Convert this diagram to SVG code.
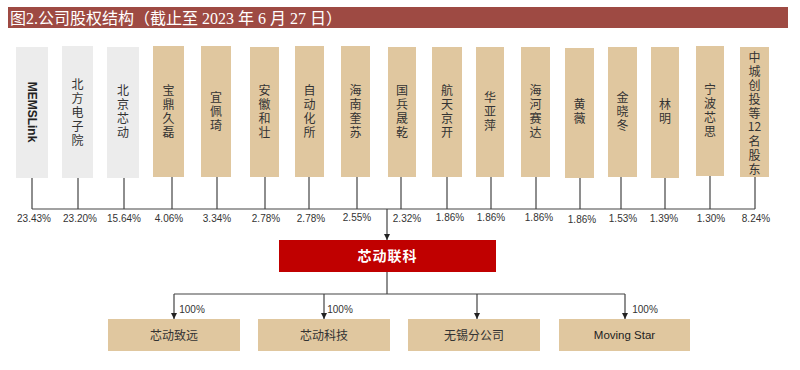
<svg xmlns="http://www.w3.org/2000/svg" width="800" height="370" viewBox="0 0 800 370">
<style>
.gray{fill:#ececec}
.tan{fill:#e0c79f}
.vt{font-family:"Noto Sans CJK SC",sans-serif;font-size:12px;fill:#333;text-anchor:middle;writing-mode:vertical-rl;text-orientation:upright;letter-spacing:2px}
.vs{font-family:"Noto Sans CJK SC",sans-serif;font-size:12px;fill:#333;text-anchor:start;writing-mode:vertical-rl;text-orientation:upright;letter-spacing:2.1px}
.pct{font-family:"Liberation Sans",Arial,sans-serif;font-size:10px;fill:#333;text-anchor:middle}
.ln{stroke:#444;stroke-width:1.2;fill:none}
.bt{font-family:"Noto Sans CJK SC",sans-serif;font-size:12px;fill:#333;text-anchor:middle}
</style>
<defs>
<marker id="ah" viewBox="0 0 10 10" refX="10" refY="5" markerWidth="6" markerHeight="6" orient="auto" markerUnits="userSpaceOnUse">
<path d="M0,0 L10,5 L0,10 z" fill="#222"/>
</marker>
</defs>
<rect width="800" height="370" fill="#fff"/>
<g id="title">
<rect x="8" y="7" width="780" height="21" fill="#9e4a43"/>
<text x="10" y="23.5" font-family="'Liberation Serif','Noto Sans CJK SC',serif" font-size="16" fill="#fff">图2.公司股权结构（截止至 2023 年 6 月 27 日）</text>
</g>
<g id="n-memslink"><rect class="gray" x="16" y="47" width="32" height="131"/><text x="0" y="0" transform="translate(28,112) rotate(90)" font-family="'Liberation Sans',Arial,sans-serif" font-weight="bold" font-size="12" fill="#222" text-anchor="middle">MEMSLink</text></g>
<g id="n-bfdzy"><rect class="gray" x="62" y="46" width="31" height="132"/><text class="vt" x="77.5" y="113">北方电子院</text></g>
<g id="n-bjxd"><rect class="gray" x="107" y="47" width="32" height="131"/><text class="vt" x="123" y="112">北京芯动</text></g>
<g id="n-bdjl"><rect class="tan" x="153" y="46" width="31" height="131"/><text class="vt" x="168.5" y="112">宝鼎久磊</text></g>
<g id="n-ypq"><rect class="tan" x="201" y="46" width="30" height="131"/><text class="vt" x="216" y="112">宜佩琦</text></g>
<g id="n-ahhz"><rect class="tan" x="250" y="47" width="29" height="130"/><text class="vt" x="264.5" y="112">安徽和壮</text></g>
<g id="n-zdhs"><rect class="tan" x="295" y="46" width="29" height="131"/><text class="vt" x="309.5" y="112">自动化所</text></g>
<g id="n-hnks"><rect class="tan" x="341" y="46" width="29" height="131"/><text class="vt" x="355.5" y="112">海南奎苏</text></g>
<g id="n-gbsq"><rect class="tan" x="388" y="47" width="28" height="130"/><text class="vt" x="402" y="112">国兵晟乾</text></g>
<g id="n-htjk"><rect class="tan" x="432" y="47" width="30" height="130"/><text class="vt" x="447" y="112">航天京开</text></g>
<g id="n-hyp"><rect class="tan" x="476" y="47" width="28" height="130"/><text class="vt" x="490" y="112">华亚萍</text></g>
<g id="n-hhsd"><rect class="tan" x="521" y="47" width="29" height="130"/><text class="vt" x="535.5" y="112">海河赛达</text></g>
<g id="n-hw"><rect class="tan" x="565" y="48" width="29" height="130"/><text class="vt" x="579.5" y="112">黄薇</text></g>
<g id="n-jxd"><rect class="tan" x="608" y="47" width="29" height="130"/><text class="vt" x="622.5" y="112">金晓冬</text></g>
<g id="n-lm"><rect class="tan" x="651" y="47" width="28" height="131"/><text class="vt" x="665" y="112">林明</text></g>
<g id="n-nbxs"><rect class="tan" x="696" y="46" width="28" height="130"/><text class="vt" x="710" y="111">宁波芯思</text></g>
<g id="n-zcct"><rect class="tan" x="740" y="47" width="29" height="130"/><text class="vs" x="754.5" y="51">中城创投等</text><text x="754.5" y="131" font-family="'Noto Sans CJK SC',sans-serif" font-size="12" fill="#333" text-anchor="middle">12</text><text class="vs" x="754.5" y="135">名股东</text></g>
<g id="n-xdlk"><rect x="279" y="240" width="217" height="32" fill="#c00000"/><text x="387.5" y="261" font-family="'Noto Sans CJK SC',sans-serif" font-size="14" font-weight="bold" fill="#fff" text-anchor="middle" letter-spacing="1">芯动联科</text></g>
<g id="n-xdzy"><rect class="tan" x="108" y="319" width="132" height="32"/><text class="bt" x="174" y="339.5">芯动致远</text></g>
<g id="n-xdkj"><rect class="tan" x="258" y="319" width="132" height="32"/><text class="bt" x="324" y="339.5">芯动科技</text></g>
<g id="n-wxfgs"><rect class="tan" x="408" y="319" width="132" height="32"/><text class="bt" x="474" y="339.5">无锡分公司</text></g>
<g id="n-moving"><rect class="tan" x="559" y="319" width="131" height="32"/><text x="624.5" y="339" font-family="'Liberation Sans',Arial,sans-serif" font-size="11.5" fill="#222" text-anchor="middle">Moving Star</text></g>
<g id="connectors">
<path class="ln" d="M32,178V209M78,178V209M124,178V209M172,177V209M217,177V209M265,177V209M309,177V209M357,177V209M401,177V209M447,177V209M491,177V209M536,177V209M580,178V209M621,177V209M665,178V209M710,176V209M755,177V209M32,209H755"/>
<path class="ln" d="M387,209V240" marker-end="url(#ah)"/>
<path class="ln" d="M387,272V294M174,294H625"/>
<path class="ln" d="M174,294V319" marker-end="url(#ah)"/>
<path class="ln" d="M324,294V319" marker-end="url(#ah)"/>
<path class="ln" d="M477,294V319" marker-end="url(#ah)"/>
<path class="ln" d="M625,294V319" marker-end="url(#ah)"/>
</g>
<g id="labels">
<text class="pct" x="34" y="222">23.43%</text>
<text class="pct" x="80" y="222">23.20%</text>
<text class="pct" x="124" y="222">15.64%</text>
<text class="pct" x="169" y="222">4.06%</text>
<text class="pct" x="217" y="222">3.34%</text>
<text class="pct" x="266" y="222">2.78%</text>
<text class="pct" x="311" y="222">2.78%</text>
<text class="pct" x="357" y="221">2.55%</text>
<text class="pct" x="407" y="222">2.32%</text>
<text class="pct" x="450" y="221">1.86%</text>
<text class="pct" x="491" y="221">1.86%</text>
<text class="pct" x="539" y="221">1.86%</text>
<text class="pct" x="582" y="223">1.86%</text>
<text class="pct" x="623" y="222">1.53%</text>
<text class="pct" x="664" y="222">1.39%</text>
<text class="pct" x="711" y="222">1.30%</text>
<text class="pct" x="756" y="222">8.24%</text>
<text class="pct" x="192" y="313" font-size="9.5">100%</text>
<text class="pct" x="340" y="313" font-size="9.5">100%</text>
<text class="pct" x="645" y="313" font-size="9.5">100%</text>
</g>
</svg>
